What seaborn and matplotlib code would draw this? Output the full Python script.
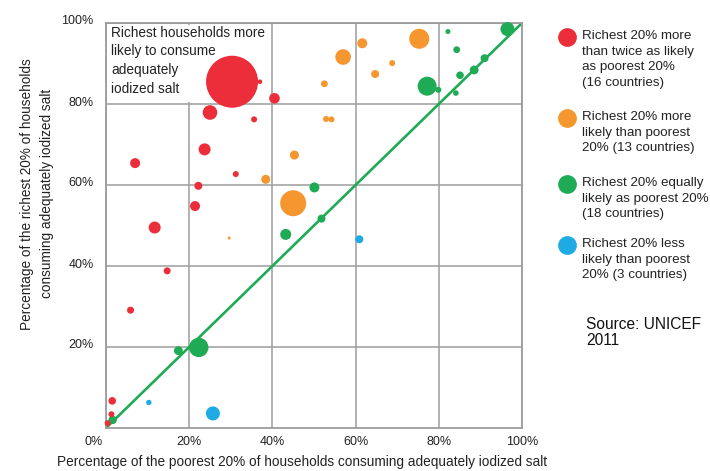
import matplotlib
matplotlib.use("Agg")
import matplotlib.pyplot as plt
from matplotlib.lines import Line2D
from matplotlib.patches import Rectangle
import matplotlib.transforms as mtransforms
import pandas as pd
import seaborn as sns

# ---------------- data ----------------
red_x = [30.3, 37.0, 40.5, 25.0, 35.6, 23.7, 7.0, 31.2, 22.2, 21.4, 11.7, 14.7, 5.9, 1.5, 1.3, 0.4]
red_y = [85.5, 85.5, 81.4, 77.9, 76.2, 68.8, 65.4, 62.7, 59.8, 54.8, 49.5, 38.8, 29.1, 6.7, 3.4, 1.2]
red_r = [26, 2.3, 5.3, 7.3, 3, 6, 5, 3, 4, 5, 6, 3.5, 3.5, 3.8, 3, 3]

orange_x = [45.3, 38.4, 45.0, 29.6, 75.3, 61.6, 57.0, 68.8, 64.7, 52.5, 52.9, 54.2]
orange_y = [67.4, 61.4, 55.5, 46.9, 96.1, 95.0, 91.6, 90.1, 87.4, 85.0, 76.3, 76.2]
orange_r = [4.5, 4.5, 13, 1.5, 10, 5, 7.8, 3, 4, 3.4, 3, 3]

green_x = [96.5, 82.2, 84.3, 91.0, 88.5, 85.1, 77.2, 79.9, 84.1, 50.1, 43.2, 51.8, 22.3, 17.4, 1.6]
green_y = [98.5, 97.9, 93.4, 91.3, 88.4, 87.1, 84.4, 83.5, 82.7, 59.4, 47.8, 51.7, 19.9, 19.1, 2.0]
green_r = [7, 2.5, 3.4, 4, 4.4, 3.8, 9.5, 3, 2.8, 5, 5.5, 4, 9.7, 4.4, 4.2]

blue_x = [60.9, 10.3, 25.7]
blue_y = [46.6, 6.3, 3.6]
blue_r = [4, 2.7, 7]

groups = ["Richest 20% more\nthan twice as likely\nas poorest 20%\n(16 countries)",
          "Richest 20% more\nlikely than poorest\n20% (13 countries)",
          "Richest 20% equally\nlikely as poorest 20%\n(18 countries)",
          "Richest 20% less\nlikely than poorest\n20% (3 countries)"]
colors = ["#EC2D3A", "#F5962F", "#1FAA55", "#1EAAE2"]

x_ticks = [0, 20, 40, 60, 80, 100]
x_tick_labels = ["0%", "20%", "40%", "60%", "80%", "100%"]
y_ticks = [20, 40, 60, 80, 100]
y_tick_labels = ["20%", "40%", "60%", "80%", "100%"]

box_text = "Richest households more\nlikely to consume\nadequately\niodized salt"
x_label = "Percentage of the poorest 20% of households consuming adequately iodized salt"
y_label = "Percentage of the richest 20% of households\nconsuming adequately iodized salt"
source_text = "Source: UNICEF\n2011"

# ---------------- build table ----------------
frames = []
for g, xs, ys, rs in zip(groups, [red_x, orange_x, green_x, blue_x],
                         [red_y, orange_y, green_y, blue_y],
                         [red_r, orange_r, green_r, blue_r]):
    frames.append(pd.DataFrame({"poorest": xs, "richest": ys, "radius": rs, "group": g}))
df = pd.concat(frames, ignore_index=True)
df = df.sort_values("radius", ascending=False).reset_index(drop=True)
DPI = 100
df["area"] = (2 * df["radius"] * 72.0 / DPI) ** 2

# ---------------- style ----------------
sns.set_theme(style="white")
plt.rcParams["font.family"] = ["Liberation Sans", "DejaVu Sans"]
TXT = "#222222"

W, H = 710, 471
fig = plt.figure(figsize=(W / DPI, H / DPI), dpi=DPI)
ax = fig.add_axes([106 / W, 1 - 428 / H, 416 / W, 405 / H])

grey = "#9C9C9C"
ax.set_axisbelow(True)
ax.grid(True, color=grey, linewidth=1.1)

# white text-box cell hides the grid in the top-left
ax.add_patch(Rectangle((0.004, 0.806), 0.39, 0.19, transform=ax.transAxes,
                       facecolor="white", edgecolor="none", zorder=1))

# diagonal line of equality
ax.plot([0, 100], [0, 100], color=colors[2], linewidth=1.9, zorder=2)

sns.scatterplot(data=df, x="poorest", y="richest", hue="group", hue_order=groups,
                palette=colors, s=df["area"].values, linewidth=0, alpha=1,
                legend=False, ax=ax, zorder=3, clip_on=False)

ax.set_xlim(0, 100)
ax.set_ylim(0, 100)
ax.set_xticks(x_ticks)
ax.set_xticklabels(x_tick_labels)
ax.set_yticks(y_ticks)
ax.set_yticklabels(y_tick_labels)
ax.tick_params(axis="both", length=0, labelsize=9, colors=TXT)
ax.tick_params(axis="x", pad=6)
ax.tick_params(axis="y", pad=9)
lbl0 = ax.get_xticklabels()[0]
lbl0.set_transform(lbl0.get_transform() + mtransforms.ScaledTranslation(-12 / DPI, 0, fig.dpi_scale_trans))
for lbl in ax.get_yticklabels():
    lbl.set_transform(lbl.get_transform() + mtransforms.ScaledTranslation(0, 3 / DPI, fig.dpi_scale_trans))

for sp in ax.spines.values():
    sp.set_color(grey)
    sp.set_linewidth(1.3)

ax.set_xlabel(x_label, fontsize=9.8, color=TXT)
ax.set_ylabel(y_label, fontsize=9.8, color=TXT, linespacing=1.5)
ax.xaxis.set_label_coords(0.472, -0.066)
ax.yaxis.set_label_coords(-0.125, 0.578)

ax.text(0.012, 0.993, box_text, transform=ax.transAxes, ha="left", va="top",
        fontsize=9.8, color=TXT, linespacing=1.42, zorder=2)

# ---------------- manual legend ----------------
entry_y = [37, 118, 184, 245]
for g, c, py in zip(groups, colors, entry_y):
    fig.add_artist(Line2D([567 / W], [1 - py / H], marker="o", markersize=13.5,
                          markerfacecolor=c, markeredgewidth=0, linestyle="none",
                          transform=fig.transFigure))
    fig.text(582 / W, 1 - (py - 7) / H, g, ha="left", va="top", fontsize=9.6,
             color=TXT, linespacing=1.4)

fig.text(586 / W, 1 - 317 / H, source_text, ha="left", va="top", fontsize=11.2,
         color="#111111", linespacing=1.05)

fig.savefig("out.png", dpi=DPI)
